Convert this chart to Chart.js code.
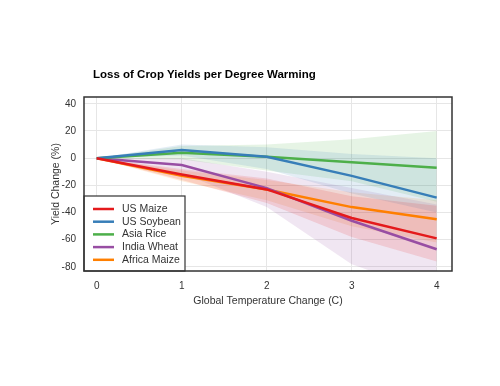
<!DOCTYPE html>
<html>
<head>
<meta charset="utf-8">
<script src="https://cdn.jsdelivr.net/npm/chart.js@4.4.1/dist/chart.umd.min.js"></script>
<style>
  html, body { margin: 0; padding: 0; background: #fff; }
  #wrap { width: 500px; height: 386px; }
</style>
</head>
<body>
<div id="wrap"><canvas id="yieldChart" width="500" height="386"></canvas></div>
<script>
// data
const temps = [0, 1, 2, 3, 4];
const xTicks = [0, 1, 2, 3, 4];
const yTicks = [-80, -60, -40, -20, 0, 20, 40];

const seriesNames = ['US Maize', 'US Soybean', 'Asia Rice', 'India Wheat', 'Africa Maize'];
const seriesColors = ['#e41a1c', '#377eb8', '#4daf4a', '#984ea3', '#ff7f00'];

const usMaize = [0, -12, -23, -44, -59];
const usSoybean = [0, 6, 1, -13, -29];
const asiaRice = [0, 4, 1, -3, -7];
const indiaWheat = [0, -5, -22, -46, -67];
const africaMaize = [0, -13, -23, -36, -45];

// uncertainty bands (low / high)
const usMaizeLow = [0, -16, -33, -58, -76];
const usMaizeHigh = [0, -8, -15, -28, -35];
const usSoybeanLow = [0, 2, -8, -26, -40];
const usSoybeanHigh = [0, 10, 8, 3, 0];
const asiaRiceLow = [0, -1, -9, -17, -32];
const asiaRiceHigh = [0, 9, 10, 14, 20];
const indiaWheatLow = [0, -11, -36, -78, -100];
const indiaWheatHigh = [0, 0, -10, -22, -34];
const africaMaizeLow = [0, -17, -31, -50, -62];
const africaMaizeHigh = [0, -9, -16, -25, -31];

const lines = [usMaize, usSoybean, asiaRice, indiaWheat, africaMaize];
const lows = [usMaizeLow, usSoybeanLow, asiaRiceLow, indiaWheatLow, africaMaizeLow];
const highs = [usMaizeHigh, usSoybeanHigh, asiaRiceHigh, indiaWheatHigh, africaMaizeHigh];

function pts(vals) {
    return vals.map((v, i) => ({ x: temps[i], y: v }));
}

function hexA(hex, a) {
    const n = parseInt(hex.slice(1), 16);
    return 'rgba(' + (n >> 16) + ',' + ((n >> 8) & 255) + ',' + (n & 255) + ',' + a + ')';
}

const datasets = [];
// bands first (drawn underneath)
seriesNames.forEach((name, i) => {
    const lowIdx = datasets.length;
    datasets.push({
        label: name + ' low',
        data: pts(lows[i]),
        borderWidth: 0,
        pointRadius: 0,
        fill: false,
        order: 2
    });
    datasets.push({
        label: name + ' high',
        data: pts(highs[i]),
        borderWidth: 0,
        pointRadius: 0,
        backgroundColor: hexA(seriesColors[i], 0.14),
        fill: { target: lowIdx },
        order: 2
    });
});
// main lines
seriesNames.forEach((name, i) => {
    datasets.push({
        label: name,
        data: pts(lines[i]),
        borderColor: seriesColors[i],
        borderWidth: 2.5,
        pointRadius: 0,
        fill: false,
        order: 0
    });
});

// title, frame and legend box drawn by hand
const decorPlugin = {
    id: 'decor',
    afterDatasetsDraw(chart) {
        const ctx = chart.ctx;
        const a = chart.chartArea;
        ctx.save();
        // legend box
        const lx = a.left, ly = 196, lw = 101, lh = a.bottom - 196;
        ctx.fillStyle = '#fff';
        ctx.fillRect(lx, ly, lw, lh);
        ctx.strokeStyle = '#333';
        ctx.lineWidth = 1.2;
        ctx.strokeRect(lx, ly, lw, lh);
        ctx.font = '10.5px "Liberation Sans", Arial, sans-serif';
        ctx.textBaseline = 'middle';
        seriesNames.forEach((name, i) => {
            const yy = ly + 13 + i * 12.7;
            ctx.strokeStyle = seriesColors[i];
            ctx.lineWidth = 2.5;
            ctx.beginPath();
            ctx.moveTo(lx + 9, yy);
            ctx.lineTo(lx + 30, yy);
            ctx.stroke();
            ctx.fillStyle = '#333';
            ctx.fillText(name, lx + 38, yy);
        });
        // plot frame
        ctx.strokeStyle = '#333';
        ctx.lineWidth = 1.5;
        ctx.strokeRect(a.left, a.top, a.right - a.left, a.bottom - a.top);
        // title
        ctx.fillStyle = '#000';
        ctx.font = 'bold 11.5px "Liberation Sans", Arial, sans-serif';
        ctx.textBaseline = 'middle';
        ctx.textAlign = 'left';
        ctx.fillText('Loss of Crop Yields per Degree Warming', 93, 75);
        ctx.restore();
    }
};

new Chart(document.getElementById('yieldChart'), {
    type: 'line',
    data: { datasets: datasets },
    options: {
        responsive: false,
        animation: false,
        layout: { padding: { left: 50, top: 97, right: 48, bottom: 75 } },
        plugins: {
            legend: { display: false },
            tooltip: { enabled: false },
            title: { display: false }
        },
        scales: {
            x: {
                type: 'linear',
                min: -0.15,
                max: 4.18,
                afterBuildTicks: axis => { axis.ticks = xTicks.map(v => ({ value: v })); },
                afterFit: axis => { axis.height = 40; },
                grid: { color: '#e6e6e6', drawTicks: false },
                border: { display: false },
                ticks: {
                    padding: 9,
                    color: '#333',
                    font: { family: '"Liberation Sans", Arial', size: 10 }
                },
                title: {
                    display: true,
                    text: 'Global Temperature Change (C)',
                    color: '#333',
                    font: { family: '"Liberation Sans", Arial', size: 10.5 },
                    padding: { top: 2 }
                }
            },
            y: {
                min: -83,
                max: 45,
                afterBuildTicks: axis => { axis.ticks = yTicks.map(v => ({ value: v })); },
                afterFit: axis => { axis.width = 34; },
                grid: { color: '#e6e6e6', drawTicks: false },
                border: { display: false },
                ticks: {
                    padding: 8,
                    color: '#333',
                    font: { family: '"Liberation Sans", Arial', size: 10 }
                },
                title: {
                    display: true,
                    text: 'Yield Change (%)',
                    color: '#333',
                    font: { family: '"Liberation Sans", Arial', size: 10.5 },
                    padding: 0
                }
            }
        }
    },
    plugins: [decorPlugin]
});
</script>
</body>
</html>
